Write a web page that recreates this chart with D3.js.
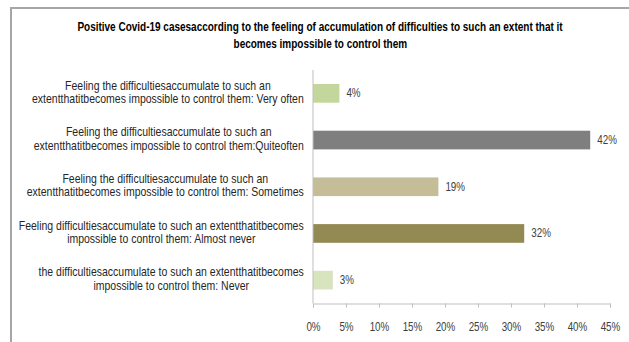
<!DOCTYPE html>
<html>
<head>
<meta charset="utf-8">
<script src="https://cdn.jsdelivr.net/npm/d3@7"></script>
<style>
  html, body { margin: 0; padding: 0; background: #fff; }
  svg { display: block; }
  text { font-family: "Liberation Sans", Arial, sans-serif; }
</style>
</head>
<body>
<svg id="chart" width="629" height="342"></svg>
<script>
// Chart data
const titleLines = [
  "Positive Covid-19 casesaccording to the feeling of accumulation of difficulties to such an extent that it",
  "becomes impossible to control them"
];
const categories = [
  ["Feeling the difficultiesaccumulate to such an", "extentthatitbecomes impossible to control them: Very often"],
  ["Feeling the difficultiesaccumulate to such an", "extentthatitbecomes impossible to control them:Quiteoften"],
  ["Feeling the difficultiesaccumulate to such an", "extentthatitbecomes impossible to control them: Sometimes"],
  ["Feeling difficultiesaccumulate to such an extentthatitbecomes", "impossible to control them: Almost never"],
  ["the difficultiesaccumulate to such an extentthatitbecomes", "impossible to control them: Never"]
];
const values = [4, 42, 19, 32, 3];
const barColors = ["#c3d69b", "#7f7f7f", "#c4bd97", "#938953", "#d7e4bd"];
const tickValues = [0, 5, 10, 15, 20, 25, 30, 35, 40, 45];

// Narrow-face look: each text is squeezed horizontally by k.
// leftFn(d, i, w) gives the left edge for a squeezed width w (default: keep current x).
function squeeze(sel, k, leftFn) {
  sel.each(function (d, i) {
    const t = d3.select(this);
    const w = this.getComputedTextLength() * k;
    const left = leftFn ? leftFn(d, i, w) : (+t.attr("x") || 0);
    t.attr("text-anchor", "start")
      .attr("x", 0)
      .attr("transform", `translate(${left},0) scale(${k},1)`);
  });
}

const svg = d3.select("#chart");

// Outer frame (top and left edges visible)
svg.append("path")
  .attr("d", "M11,342 L11,8 L629,8")
  .attr("fill", "none")
  .attr("stroke", "#a6a6a6")
  .attr("stroke-width", 2);

// Title
const title = svg.append("g").selectAll("text")
  .data(titleLines)
  .join("text")
  .attr("y", (d, i) => 31 + i * 17)
  .attr("font-size", 12.5)
  .attr("font-weight", "bold")
  .attr("fill", "#000")
  .text(d => d);
squeeze(title, 0.80, (d, i, w) => 320.5 - w / 2);

const x = d3.scaleLinear().domain([0, 45]).range([313, 610]);
const y = d3.scaleBand()
  .domain(d3.range(categories.length))
  .range([70, 303.5])
  .paddingInner(0.6)
  .paddingOuter(0.3);

// Bars
svg.append("g").selectAll("rect")
  .data(values)
  .join("rect")
  .attr("x", x(0))
  .attr("y", (d, i) => y(i))
  .attr("width", d => x(d) - x(0))
  .attr("height", y.bandwidth())
  .attr("fill", (d, i) => barColors[i]);

// Value labels
const vl = svg.append("g").selectAll("text")
  .data(values)
  .join("text")
  .attr("x", d => x(d) + 7)
  .attr("y", (d, i) => y(i) + y.bandwidth() / 2 + 4)
  .attr("font-size", 12)
  .attr("fill", "#404040")
  .text(d => d + "%");
squeeze(vl, 0.82);

// Vertical category axis line
svg.append("line")
  .attr("x1", x(0)).attr("x2", x(0))
  .attr("y1", 70).attr("y2", 303.5)
  .attr("stroke", "#bfbfbf")
  .attr("stroke-width", 1);

// Value axis
const xAxis = d3.axisBottom(x)
  .tickValues(tickValues)
  .tickFormat(d => d + "%")
  .tickSize(4)
  .tickPadding(15);

const ax = svg.append("g")
  .attr("transform", "translate(0,303.5)")
  .call(xAxis);
ax.select(".domain").attr("stroke", "#bfbfbf");
ax.selectAll(".tick line").attr("stroke", "#bfbfbf");
const tt = ax.selectAll(".tick text")
  .attr("font-size", 12)
  .attr("fill", "#404040")
  .style("font-family", "\"Liberation Sans\", Arial, sans-serif");
squeeze(tt, 0.82, (d, i, w) => -w / 2);

// Category labels: lines centred within a block whose right edge sits left of the axis
const labelRight = 304;
const catK = 0.84;
const catG = svg.append("g");
categories.forEach((lines, i) => {
  const g = catG.append("g");
  const texts = g.selectAll("text")
    .data(lines)
    .join("text")
    .attr("font-size", 12.5)
    .attr("fill", "#262626")
    .text(d => d);
  let maxW = 0;
  texts.each(function () { maxW = Math.max(maxW, this.getComputedTextLength() * catK); });
  const cx = labelRight - maxW / 2;
  const cy = y(i) + y.bandwidth() / 2;
  squeeze(texts, catK, (d, j, w) => cx - w / 2);
  texts.attr("y", (d, j) => cy - 1.5 + (j - (lines.length - 1) / 2) * 13.5 + 4.5);
});
</script>
</body>
</html>
